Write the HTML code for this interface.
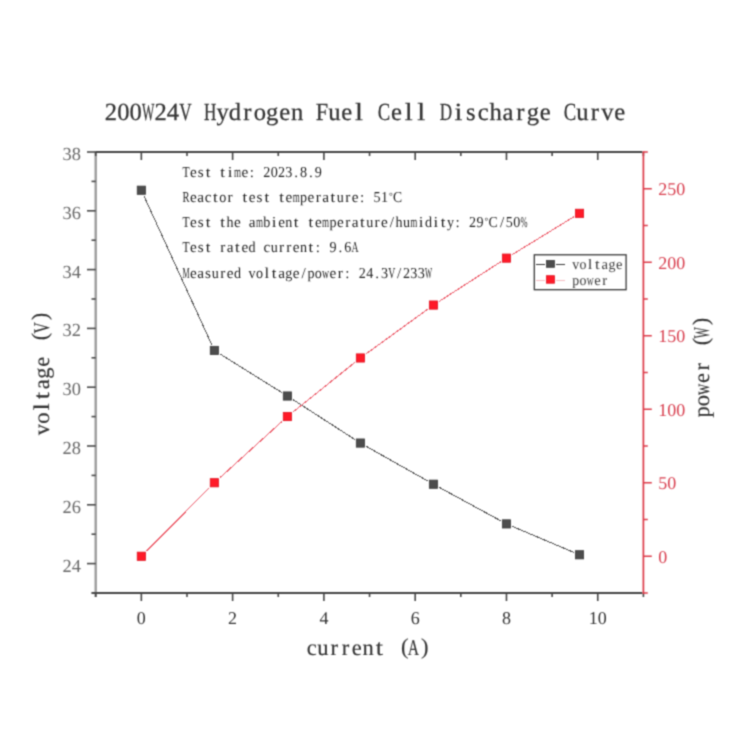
<!DOCTYPE html><html><head><meta charset="utf-8"><style>html,body{margin:0;padding:0;background:#fff;}svg{display:block;}text{font-family:"Liberation Serif",serif;text-rendering:geometricPrecision;}</style></head><body>
<svg width="750" height="750" viewBox="0 0 750 750">
<defs><filter id="soft" filterUnits="userSpaceOnUse" x="0" y="0" width="750" height="750" color-interpolation-filters="sRGB"><feConvolveMatrix order="3" kernelMatrix="1 3 1 3 9 3 1 3 1" divisor="25" edgeMode="duplicate"/></filter></defs>
<g filter="url(#soft)">
<rect width="750" height="750" fill="#fff"/>
<text x="104.75" y="120.40" font-size="24.6" fill="#333"  stroke="#333" stroke-width="0.25">2</text>
<text x="117.16" y="120.40" font-size="24.6" fill="#333"  stroke="#333" stroke-width="0.25">0</text>
<text x="129.58" y="120.40" font-size="24.6" fill="#333"  stroke="#333" stroke-width="0.25">0</text>
<text x="141.93" y="120.40" font-size="24.6" fill="#333" textLength="12.41" lengthAdjust="spacingAndGlyphs"  stroke="#333" stroke-width="0.25">W</text>
<text x="154.40" y="120.40" font-size="24.6" fill="#333"  stroke="#333" stroke-width="0.25">2</text>
<text x="166.81" y="120.40" font-size="24.6" fill="#333"  stroke="#333" stroke-width="0.25">4</text>
<text x="179.16" y="120.40" font-size="24.6" fill="#333" textLength="12.41" lengthAdjust="spacingAndGlyphs"  stroke="#333" stroke-width="0.25">V</text>
<text x="203.98" y="120.40" font-size="24.6" fill="#333" textLength="12.41" lengthAdjust="spacingAndGlyphs"  stroke="#333" stroke-width="0.25">H</text>
<text x="216.44" y="120.40" font-size="24.6" fill="#333"  stroke="#333" stroke-width="0.25">y</text>
<text x="228.85" y="120.40" font-size="24.6" fill="#333"  stroke="#333" stroke-width="0.25">d</text>
<text x="243.32" y="120.40" font-size="24.6" fill="#333"  stroke="#333" stroke-width="0.25">r</text>
<text x="253.67" y="120.40" font-size="24.6" fill="#333"  stroke="#333" stroke-width="0.25">o</text>
<text x="266.08" y="120.40" font-size="24.6" fill="#333"  stroke="#333" stroke-width="0.25">g</text>
<text x="279.19" y="120.40" font-size="24.6" fill="#333"  stroke="#333" stroke-width="0.25">e</text>
<text x="290.91" y="120.40" font-size="24.6" fill="#333"  stroke="#333" stroke-width="0.25">n</text>
<text x="315.67" y="120.40" font-size="24.6" fill="#333" textLength="12.41" lengthAdjust="spacingAndGlyphs"  stroke="#333" stroke-width="0.25">F</text>
<text x="328.14" y="120.40" font-size="24.6" fill="#333"  stroke="#333" stroke-width="0.25">u</text>
<text x="341.24" y="120.40" font-size="24.6" fill="#333"  stroke="#333" stroke-width="0.25">e</text>
<text x="355.13" y="120.40" font-size="24.6" fill="#333" textLength="7.94" lengthAdjust="spacingAndGlyphs"  stroke="#333" stroke-width="0.25">l</text>
<text x="377.72" y="120.40" font-size="24.6" fill="#333" textLength="12.41" lengthAdjust="spacingAndGlyphs"  stroke="#333" stroke-width="0.25">C</text>
<text x="390.88" y="120.40" font-size="24.6" fill="#333"  stroke="#333" stroke-width="0.25">e</text>
<text x="404.77" y="120.40" font-size="24.6" fill="#333" textLength="7.94" lengthAdjust="spacingAndGlyphs"  stroke="#333" stroke-width="0.25">l</text>
<text x="417.18" y="120.40" font-size="24.6" fill="#333" textLength="7.94" lengthAdjust="spacingAndGlyphs"  stroke="#333" stroke-width="0.25">l</text>
<text x="439.77" y="120.40" font-size="24.6" fill="#333" textLength="12.41" lengthAdjust="spacingAndGlyphs"  stroke="#333" stroke-width="0.25">D</text>
<text x="454.41" y="120.40" font-size="24.6" fill="#333" textLength="7.94" lengthAdjust="spacingAndGlyphs"  stroke="#333" stroke-width="0.25">i</text>
<text x="466.01" y="120.40" font-size="24.6" fill="#333"  stroke="#333" stroke-width="0.25">s</text>
<text x="477.75" y="120.40" font-size="24.6" fill="#333"  stroke="#333" stroke-width="0.25">c</text>
<text x="489.47" y="120.40" font-size="24.6" fill="#333"  stroke="#333" stroke-width="0.25">h</text>
<text x="502.57" y="120.40" font-size="24.6" fill="#333"  stroke="#333" stroke-width="0.25">a</text>
<text x="516.34" y="120.40" font-size="24.6" fill="#333"  stroke="#333" stroke-width="0.25">r</text>
<text x="526.70" y="120.40" font-size="24.6" fill="#333"  stroke="#333" stroke-width="0.25">g</text>
<text x="539.80" y="120.40" font-size="24.6" fill="#333"  stroke="#333" stroke-width="0.25">e</text>
<text x="563.87" y="120.40" font-size="24.6" fill="#333" textLength="12.41" lengthAdjust="spacingAndGlyphs"  stroke="#333" stroke-width="0.25">C</text>
<text x="576.34" y="120.40" font-size="24.6" fill="#333"  stroke="#333" stroke-width="0.25">u</text>
<text x="590.80" y="120.40" font-size="24.6" fill="#333"  stroke="#333" stroke-width="0.25">r</text>
<text x="601.16" y="120.40" font-size="24.6" fill="#333"  stroke="#333" stroke-width="0.25">v</text>
<text x="614.26" y="120.40" font-size="24.6" fill="#333"  stroke="#333" stroke-width="0.25">e</text>
<g stroke-linecap="butt" fill="none">
<line x1="95.7" y1="151.0" x2="95.7" y2="597.0" stroke="#9b9b9b" stroke-width="2.4"/>
<line x1="95.7" y1="152.0" x2="642.4" y2="152.0" stroke="#454545" stroke-width="2"/>
<line x1="91.7" y1="593.0" x2="642.4" y2="593.0" stroke="#454545" stroke-width="2"/>
<line x1="95.70" y1="152.0" x2="95.70" y2="156.0" stroke="#454545" stroke-width="1.6"/>
<line x1="95.70" y1="593.0" x2="95.70" y2="597.0" stroke="#454545" stroke-width="1.6"/>
<line x1="141.34" y1="152.0" x2="141.34" y2="160.0" stroke="#454545" stroke-width="1.6"/>
<line x1="141.34" y1="593.0" x2="141.34" y2="601.0" stroke="#454545" stroke-width="1.6"/>
<line x1="186.98" y1="152.0" x2="186.98" y2="156.0" stroke="#454545" stroke-width="1.6"/>
<line x1="186.98" y1="593.0" x2="186.98" y2="597.0" stroke="#454545" stroke-width="1.6"/>
<line x1="232.62" y1="152.0" x2="232.62" y2="160.0" stroke="#454545" stroke-width="1.6"/>
<line x1="232.62" y1="593.0" x2="232.62" y2="601.0" stroke="#454545" stroke-width="1.6"/>
<line x1="278.27" y1="152.0" x2="278.27" y2="156.0" stroke="#454545" stroke-width="1.6"/>
<line x1="278.27" y1="593.0" x2="278.27" y2="597.0" stroke="#454545" stroke-width="1.6"/>
<line x1="323.91" y1="152.0" x2="323.91" y2="160.0" stroke="#454545" stroke-width="1.6"/>
<line x1="323.91" y1="593.0" x2="323.91" y2="601.0" stroke="#454545" stroke-width="1.6"/>
<line x1="369.55" y1="152.0" x2="369.55" y2="156.0" stroke="#454545" stroke-width="1.6"/>
<line x1="369.55" y1="593.0" x2="369.55" y2="597.0" stroke="#454545" stroke-width="1.6"/>
<line x1="415.19" y1="152.0" x2="415.19" y2="160.0" stroke="#454545" stroke-width="1.6"/>
<line x1="415.19" y1="593.0" x2="415.19" y2="601.0" stroke="#454545" stroke-width="1.6"/>
<line x1="460.83" y1="152.0" x2="460.83" y2="156.0" stroke="#454545" stroke-width="1.6"/>
<line x1="460.83" y1="593.0" x2="460.83" y2="597.0" stroke="#454545" stroke-width="1.6"/>
<line x1="506.47" y1="152.0" x2="506.47" y2="160.0" stroke="#454545" stroke-width="1.6"/>
<line x1="506.47" y1="593.0" x2="506.47" y2="601.0" stroke="#454545" stroke-width="1.6"/>
<line x1="552.12" y1="152.0" x2="552.12" y2="156.0" stroke="#454545" stroke-width="1.6"/>
<line x1="552.12" y1="593.0" x2="552.12" y2="597.0" stroke="#454545" stroke-width="1.6"/>
<line x1="597.76" y1="152.0" x2="597.76" y2="160.0" stroke="#454545" stroke-width="1.6"/>
<line x1="597.76" y1="593.0" x2="597.76" y2="601.0" stroke="#454545" stroke-width="1.6"/>
<line x1="643.40" y1="152.0" x2="643.40" y2="156.0" stroke="#454545" stroke-width="1.6"/>
<line x1="643.40" y1="593.0" x2="643.40" y2="597.0" stroke="#454545" stroke-width="1.6"/>
<line x1="91.50" y1="593.00" x2="95.7" y2="593.00" stroke="#4a4a4a" stroke-width="1.6"/>
<line x1="87.00" y1="563.60" x2="95.7" y2="563.60" stroke="#4a4a4a" stroke-width="1.6"/>
<line x1="91.50" y1="534.20" x2="95.7" y2="534.20" stroke="#4a4a4a" stroke-width="1.6"/>
<line x1="87.00" y1="504.80" x2="95.7" y2="504.80" stroke="#4a4a4a" stroke-width="1.6"/>
<line x1="91.50" y1="475.40" x2="95.7" y2="475.40" stroke="#4a4a4a" stroke-width="1.6"/>
<line x1="87.00" y1="446.00" x2="95.7" y2="446.00" stroke="#4a4a4a" stroke-width="1.6"/>
<line x1="91.50" y1="416.60" x2="95.7" y2="416.60" stroke="#4a4a4a" stroke-width="1.6"/>
<line x1="87.00" y1="387.20" x2="95.7" y2="387.20" stroke="#4a4a4a" stroke-width="1.6"/>
<line x1="91.50" y1="357.80" x2="95.7" y2="357.80" stroke="#4a4a4a" stroke-width="1.6"/>
<line x1="87.00" y1="328.40" x2="95.7" y2="328.40" stroke="#4a4a4a" stroke-width="1.6"/>
<line x1="91.50" y1="299.00" x2="95.7" y2="299.00" stroke="#4a4a4a" stroke-width="1.6"/>
<line x1="87.00" y1="269.60" x2="95.7" y2="269.60" stroke="#4a4a4a" stroke-width="1.6"/>
<line x1="91.50" y1="240.20" x2="95.7" y2="240.20" stroke="#4a4a4a" stroke-width="1.6"/>
<line x1="87.00" y1="210.80" x2="95.7" y2="210.80" stroke="#4a4a4a" stroke-width="1.6"/>
<line x1="91.50" y1="181.40" x2="95.7" y2="181.40" stroke="#4a4a4a" stroke-width="1.6"/>
<line x1="87.00" y1="152.00" x2="95.7" y2="152.00" stroke="#4a4a4a" stroke-width="1.6"/>
<line x1="643.4" y1="151.2" x2="643.4" y2="593.9" stroke="#dc3a48" stroke-width="1.7"/>
<line x1="643.4" y1="593.00" x2="647.8" y2="593.00" stroke="#dc3a48" stroke-width="1.5"/>
<line x1="643.4" y1="556.25" x2="651.8" y2="556.25" stroke="#dc3a48" stroke-width="1.5"/>
<line x1="643.4" y1="519.50" x2="647.8" y2="519.50" stroke="#dc3a48" stroke-width="1.5"/>
<line x1="643.4" y1="482.75" x2="651.8" y2="482.75" stroke="#dc3a48" stroke-width="1.5"/>
<line x1="643.4" y1="446.00" x2="647.8" y2="446.00" stroke="#dc3a48" stroke-width="1.5"/>
<line x1="643.4" y1="409.25" x2="651.8" y2="409.25" stroke="#dc3a48" stroke-width="1.5"/>
<line x1="643.4" y1="372.50" x2="647.8" y2="372.50" stroke="#dc3a48" stroke-width="1.5"/>
<line x1="643.4" y1="335.75" x2="651.8" y2="335.75" stroke="#dc3a48" stroke-width="1.5"/>
<line x1="643.4" y1="299.00" x2="647.8" y2="299.00" stroke="#dc3a48" stroke-width="1.5"/>
<line x1="643.4" y1="262.25" x2="651.8" y2="262.25" stroke="#dc3a48" stroke-width="1.5"/>
<line x1="643.4" y1="225.50" x2="647.8" y2="225.50" stroke="#dc3a48" stroke-width="1.5"/>
<line x1="643.4" y1="188.75" x2="651.8" y2="188.75" stroke="#dc3a48" stroke-width="1.5"/>
<line x1="643.4" y1="152.00" x2="647.8" y2="152.00" stroke="#dc3a48" stroke-width="1.5"/>
</g>
<text x="81" y="571.50" font-size="18.4" fill="#666" text-anchor="end">24</text>
<text x="81" y="512.70" font-size="18.4" fill="#666" text-anchor="end">26</text>
<text x="81" y="453.90" font-size="18.4" fill="#666" text-anchor="end">28</text>
<text x="81" y="395.10" font-size="18.4" fill="#666" text-anchor="end">30</text>
<text x="81" y="336.30" font-size="18.4" fill="#666" text-anchor="end">32</text>
<text x="81" y="277.50" font-size="18.4" fill="#666" text-anchor="end">34</text>
<text x="81" y="218.70" font-size="18.4" fill="#666" text-anchor="end">36</text>
<text x="81" y="159.90" font-size="18.4" fill="#666" text-anchor="end">38</text>
<text x="141.34" y="623.6" font-size="18" fill="#333" text-anchor="middle">0</text>
<text x="232.62" y="623.6" font-size="18" fill="#333" text-anchor="middle">2</text>
<text x="323.91" y="623.6" font-size="18" fill="#333" text-anchor="middle">4</text>
<text x="415.19" y="623.6" font-size="18" fill="#333" text-anchor="middle">6</text>
<text x="506.47" y="623.6" font-size="18" fill="#333" text-anchor="middle">8</text>
<text x="597.76" y="623.6" font-size="18" fill="#333" text-anchor="middle">10</text>
<text x="658.3" y="562.95" font-size="18" fill="#d83e4e">0</text>
<text x="658.3" y="489.45" font-size="18" fill="#d83e4e">50</text>
<text x="658.3" y="415.95" font-size="18" fill="#d83e4e">100</text>
<text x="658.3" y="342.45" font-size="18" fill="#d83e4e">150</text>
<text x="658.3" y="268.95" font-size="18" fill="#d83e4e">200</text>
<text x="658.3" y="195.45" font-size="18" fill="#d83e4e">250</text>
<text x="306.66" y="655.20" font-size="22.5" fill="#333"  stroke="#333" stroke-width="0.15">c</text>
<text x="317.32" y="655.20" font-size="22.5" fill="#333"  stroke="#333" stroke-width="0.15">u</text>
<text x="330.50" y="655.20" font-size="22.5" fill="#333"  stroke="#333" stroke-width="0.15">r</text>
<text x="341.80" y="655.20" font-size="22.5" fill="#333"  stroke="#333" stroke-width="0.15">r</text>
<text x="351.86" y="655.20" font-size="22.5" fill="#333"  stroke="#333" stroke-width="0.15">e</text>
<text x="362.53" y="655.20" font-size="22.5" fill="#333"  stroke="#333" stroke-width="0.15">n</text>
<text x="375.83" y="655.20" font-size="22.5" fill="#333" textLength="7.23" lengthAdjust="spacingAndGlyphs"  stroke="#333" stroke-width="0.15">t</text>
<text x="400.89" y="653.62" font-size="22.5" fill="#333"  stroke="#333" stroke-width="0.15">(</text>
<text x="407.70" y="655.20" font-size="22.5" fill="#333" textLength="11.30" lengthAdjust="spacingAndGlyphs"  stroke="#333" stroke-width="0.15">A</text>
<text x="421.03" y="653.62" font-size="22.5" fill="#333"  stroke="#333" stroke-width="0.15">)</text>
<g transform="translate(48.8,435.2) rotate(-90)">
<text x="0.03" y="0.00" font-size="22.5" fill="#333"  stroke="#333" stroke-width="0.15">v</text>
<text x="11.33" y="0.00" font-size="22.5" fill="#333"  stroke="#333" stroke-width="0.15">o</text>
<text x="24.63" y="0.00" font-size="22.5" fill="#333" textLength="7.23" lengthAdjust="spacingAndGlyphs"  stroke="#333" stroke-width="0.15">l</text>
<text x="35.93" y="0.00" font-size="22.5" fill="#333" textLength="7.23" lengthAdjust="spacingAndGlyphs"  stroke="#333" stroke-width="0.15">t</text>
<text x="45.86" y="0.00" font-size="22.5" fill="#333"  stroke="#333" stroke-width="0.15">a</text>
<text x="56.52" y="0.00" font-size="22.5" fill="#333"  stroke="#333" stroke-width="0.15">g</text>
<text x="68.46" y="0.00" font-size="22.5" fill="#333"  stroke="#333" stroke-width="0.15">e</text>
<text x="94.89" y="-1.58" font-size="22.5" fill="#333"  stroke="#333" stroke-width="0.15">(</text>
<text x="101.70" y="0.00" font-size="22.5" fill="#333" textLength="11.30" lengthAdjust="spacingAndGlyphs"  stroke="#333" stroke-width="0.15">V</text>
<text x="115.03" y="-1.58" font-size="22.5" fill="#333"  stroke="#333" stroke-width="0.15">)</text>
</g>
<g transform="translate(709.3,417.6) rotate(-90)">
<text x="0.03" y="0.00" font-size="22.5" fill="#333"  stroke="#333" stroke-width="0.15">p</text>
<text x="11.33" y="0.00" font-size="22.5" fill="#333"  stroke="#333" stroke-width="0.15">o</text>
<text x="22.60" y="0.00" font-size="22.5" fill="#333" textLength="11.30" lengthAdjust="spacingAndGlyphs"  stroke="#333" stroke-width="0.15">w</text>
<text x="34.56" y="0.00" font-size="22.5" fill="#333"  stroke="#333" stroke-width="0.15">e</text>
<text x="47.10" y="0.00" font-size="22.5" fill="#333"  stroke="#333" stroke-width="0.15">r</text>
<text x="72.29" y="-1.58" font-size="22.5" fill="#333"  stroke="#333" stroke-width="0.15">(</text>
<text x="79.10" y="0.00" font-size="22.5" fill="#333" textLength="11.30" lengthAdjust="spacingAndGlyphs"  stroke="#333" stroke-width="0.15">W</text>
<text x="92.43" y="-1.58" font-size="22.5" fill="#333"  stroke="#333" stroke-width="0.15">)</text>
</g>
<text x="182.45" y="176.80" font-size="15.2" fill="#1e1e1e" textLength="7.06" lengthAdjust="spacingAndGlyphs" >T</text>
<text x="189.95" y="176.80" font-size="15.2" fill="#1e1e1e" >e</text>
<text x="197.72" y="176.80" font-size="15.2" fill="#1e1e1e" >s</text>
<text x="205.67" y="176.80" font-size="15.2" fill="#1e1e1e" textLength="4.70" lengthAdjust="spacingAndGlyphs" >t</text>
<text x="220.37" y="176.80" font-size="15.2" fill="#1e1e1e" textLength="4.70" lengthAdjust="spacingAndGlyphs" >t</text>
<text x="227.72" y="176.80" font-size="15.2" fill="#1e1e1e" textLength="4.70" lengthAdjust="spacingAndGlyphs" >i</text>
<text x="233.90" y="176.80" font-size="15.2" fill="#1e1e1e" textLength="7.06" lengthAdjust="spacingAndGlyphs" >m</text>
<text x="241.40" y="176.80" font-size="15.2" fill="#1e1e1e" >e</text>
<text x="249.72" y="176.80" font-size="15.2" fill="#1e1e1e" >:</text>
<text x="263.30" y="176.80" font-size="15.2" fill="#1e1e1e" textLength="7.06" lengthAdjust="spacingAndGlyphs" >2</text>
<text x="270.65" y="176.80" font-size="15.2" fill="#1e1e1e" textLength="7.06" lengthAdjust="spacingAndGlyphs" >0</text>
<text x="278.00" y="176.80" font-size="15.2" fill="#1e1e1e" textLength="7.06" lengthAdjust="spacingAndGlyphs" >2</text>
<text x="285.35" y="176.80" font-size="15.2" fill="#1e1e1e" textLength="7.06" lengthAdjust="spacingAndGlyphs" >3</text>
<text x="294.33" y="176.80" font-size="15.2" fill="#1e1e1e" >.</text>
<text x="300.05" y="176.80" font-size="15.2" fill="#1e1e1e" textLength="7.06" lengthAdjust="spacingAndGlyphs" >8</text>
<text x="309.03" y="176.80" font-size="15.2" fill="#1e1e1e" >.</text>
<text x="314.75" y="176.80" font-size="15.2" fill="#1e1e1e" textLength="7.06" lengthAdjust="spacingAndGlyphs" >9</text>
<text x="182.45" y="202.10" font-size="15.2" fill="#1e1e1e" textLength="7.06" lengthAdjust="spacingAndGlyphs" >R</text>
<text x="189.95" y="202.10" font-size="15.2" fill="#1e1e1e" >e</text>
<text x="197.30" y="202.10" font-size="15.2" fill="#1e1e1e" >a</text>
<text x="204.65" y="202.10" font-size="15.2" fill="#1e1e1e" >c</text>
<text x="213.02" y="202.10" font-size="15.2" fill="#1e1e1e" textLength="4.70" lengthAdjust="spacingAndGlyphs" >t</text>
<text x="219.20" y="202.10" font-size="15.2" fill="#1e1e1e" textLength="7.06" lengthAdjust="spacingAndGlyphs" >o</text>
<text x="227.54" y="202.10" font-size="15.2" fill="#1e1e1e" >r</text>
<text x="242.42" y="202.10" font-size="15.2" fill="#1e1e1e" textLength="4.70" lengthAdjust="spacingAndGlyphs" >t</text>
<text x="248.75" y="202.10" font-size="15.2" fill="#1e1e1e" >e</text>
<text x="256.52" y="202.10" font-size="15.2" fill="#1e1e1e" >s</text>
<text x="264.47" y="202.10" font-size="15.2" fill="#1e1e1e" textLength="4.70" lengthAdjust="spacingAndGlyphs" >t</text>
<text x="279.17" y="202.10" font-size="15.2" fill="#1e1e1e" textLength="4.70" lengthAdjust="spacingAndGlyphs" >t</text>
<text x="285.50" y="202.10" font-size="15.2" fill="#1e1e1e" >e</text>
<text x="292.70" y="202.10" font-size="15.2" fill="#1e1e1e" textLength="7.06" lengthAdjust="spacingAndGlyphs" >m</text>
<text x="300.05" y="202.10" font-size="15.2" fill="#1e1e1e" textLength="7.06" lengthAdjust="spacingAndGlyphs" >p</text>
<text x="307.55" y="202.10" font-size="15.2" fill="#1e1e1e" >e</text>
<text x="315.74" y="202.10" font-size="15.2" fill="#1e1e1e" >r</text>
<text x="322.25" y="202.10" font-size="15.2" fill="#1e1e1e" >a</text>
<text x="330.62" y="202.10" font-size="15.2" fill="#1e1e1e" textLength="4.70" lengthAdjust="spacingAndGlyphs" >t</text>
<text x="336.80" y="202.10" font-size="15.2" fill="#1e1e1e" textLength="7.06" lengthAdjust="spacingAndGlyphs" >u</text>
<text x="345.14" y="202.10" font-size="15.2" fill="#1e1e1e" >r</text>
<text x="351.65" y="202.10" font-size="15.2" fill="#1e1e1e" >e</text>
<text x="359.97" y="202.10" font-size="15.2" fill="#1e1e1e" >:</text>
<text x="373.55" y="202.10" font-size="15.2" fill="#1e1e1e" textLength="7.06" lengthAdjust="spacingAndGlyphs" >5</text>
<text x="380.90" y="202.10" font-size="15.2" fill="#1e1e1e" textLength="7.06" lengthAdjust="spacingAndGlyphs" >1</text>
<text x="388.98" y="199.06" font-size="9.42" fill="#1e1e1e" >°</text>
<text x="392.95" y="202.10" font-size="15.2" fill="#1e1e1e" textLength="9.11" lengthAdjust="spacingAndGlyphs" >C</text>
<text x="182.45" y="227.00" font-size="15.2" fill="#1e1e1e" textLength="7.06" lengthAdjust="spacingAndGlyphs" >T</text>
<text x="189.95" y="227.00" font-size="15.2" fill="#1e1e1e" >e</text>
<text x="197.72" y="227.00" font-size="15.2" fill="#1e1e1e" >s</text>
<text x="205.67" y="227.00" font-size="15.2" fill="#1e1e1e" textLength="4.70" lengthAdjust="spacingAndGlyphs" >t</text>
<text x="220.37" y="227.00" font-size="15.2" fill="#1e1e1e" textLength="4.70" lengthAdjust="spacingAndGlyphs" >t</text>
<text x="226.55" y="227.00" font-size="15.2" fill="#1e1e1e" textLength="7.06" lengthAdjust="spacingAndGlyphs" >h</text>
<text x="234.05" y="227.00" font-size="15.2" fill="#1e1e1e" >e</text>
<text x="248.75" y="227.00" font-size="15.2" fill="#1e1e1e" >a</text>
<text x="255.95" y="227.00" font-size="15.2" fill="#1e1e1e" textLength="7.06" lengthAdjust="spacingAndGlyphs" >m</text>
<text x="263.30" y="227.00" font-size="15.2" fill="#1e1e1e" textLength="7.06" lengthAdjust="spacingAndGlyphs" >b</text>
<text x="271.82" y="227.00" font-size="15.2" fill="#1e1e1e" textLength="4.70" lengthAdjust="spacingAndGlyphs" >i</text>
<text x="278.15" y="227.00" font-size="15.2" fill="#1e1e1e" >e</text>
<text x="285.35" y="227.00" font-size="15.2" fill="#1e1e1e" textLength="7.06" lengthAdjust="spacingAndGlyphs" >n</text>
<text x="293.87" y="227.00" font-size="15.2" fill="#1e1e1e" textLength="4.70" lengthAdjust="spacingAndGlyphs" >t</text>
<text x="308.57" y="227.00" font-size="15.2" fill="#1e1e1e" textLength="4.70" lengthAdjust="spacingAndGlyphs" >t</text>
<text x="314.90" y="227.00" font-size="15.2" fill="#1e1e1e" >e</text>
<text x="322.10" y="227.00" font-size="15.2" fill="#1e1e1e" textLength="7.06" lengthAdjust="spacingAndGlyphs" >m</text>
<text x="329.45" y="227.00" font-size="15.2" fill="#1e1e1e" textLength="7.06" lengthAdjust="spacingAndGlyphs" >p</text>
<text x="336.95" y="227.00" font-size="15.2" fill="#1e1e1e" >e</text>
<text x="345.14" y="227.00" font-size="15.2" fill="#1e1e1e" >r</text>
<text x="351.65" y="227.00" font-size="15.2" fill="#1e1e1e" >a</text>
<text x="360.02" y="227.00" font-size="15.2" fill="#1e1e1e" textLength="4.70" lengthAdjust="spacingAndGlyphs" >t</text>
<text x="366.20" y="227.00" font-size="15.2" fill="#1e1e1e" textLength="7.06" lengthAdjust="spacingAndGlyphs" >u</text>
<text x="374.54" y="227.00" font-size="15.2" fill="#1e1e1e" >r</text>
<text x="381.05" y="227.00" font-size="15.2" fill="#1e1e1e" >e</text>
<text x="389.66" y="227.00" font-size="15.2" fill="#1e1e1e" >/</text>
<text x="395.60" y="227.00" font-size="15.2" fill="#1e1e1e" textLength="7.06" lengthAdjust="spacingAndGlyphs" >h</text>
<text x="402.95" y="227.00" font-size="15.2" fill="#1e1e1e" textLength="7.06" lengthAdjust="spacingAndGlyphs" >u</text>
<text x="410.30" y="227.00" font-size="15.2" fill="#1e1e1e" textLength="7.06" lengthAdjust="spacingAndGlyphs" >m</text>
<text x="418.82" y="227.00" font-size="15.2" fill="#1e1e1e" textLength="4.70" lengthAdjust="spacingAndGlyphs" >i</text>
<text x="425.00" y="227.00" font-size="15.2" fill="#1e1e1e" textLength="7.06" lengthAdjust="spacingAndGlyphs" >d</text>
<text x="433.52" y="227.00" font-size="15.2" fill="#1e1e1e" textLength="4.70" lengthAdjust="spacingAndGlyphs" >i</text>
<text x="440.87" y="227.00" font-size="15.2" fill="#1e1e1e" textLength="4.70" lengthAdjust="spacingAndGlyphs" >t</text>
<text x="447.05" y="227.00" font-size="15.2" fill="#1e1e1e" textLength="7.06" lengthAdjust="spacingAndGlyphs" >y</text>
<text x="455.52" y="227.00" font-size="15.2" fill="#1e1e1e" >:</text>
<text x="469.10" y="227.00" font-size="15.2" fill="#1e1e1e" textLength="7.06" lengthAdjust="spacingAndGlyphs" >2</text>
<text x="476.45" y="227.00" font-size="15.2" fill="#1e1e1e" textLength="7.06" lengthAdjust="spacingAndGlyphs" >9</text>
<text x="484.53" y="223.96" font-size="9.42" fill="#1e1e1e" >°</text>
<text x="488.50" y="227.00" font-size="15.2" fill="#1e1e1e" textLength="9.11" lengthAdjust="spacingAndGlyphs" >C</text>
<text x="499.91" y="227.00" font-size="15.2" fill="#1e1e1e" >/</text>
<text x="505.85" y="227.00" font-size="15.2" fill="#1e1e1e" textLength="7.06" lengthAdjust="spacingAndGlyphs" >5</text>
<text x="513.20" y="227.00" font-size="15.2" fill="#1e1e1e" textLength="7.06" lengthAdjust="spacingAndGlyphs" >0</text>
<text x="520.55" y="227.00" font-size="15.2" fill="#1e1e1e" textLength="7.06" lengthAdjust="spacingAndGlyphs" >%</text>
<text x="182.45" y="252.30" font-size="15.2" fill="#1e1e1e" textLength="7.06" lengthAdjust="spacingAndGlyphs" >T</text>
<text x="189.95" y="252.30" font-size="15.2" fill="#1e1e1e" >e</text>
<text x="197.72" y="252.30" font-size="15.2" fill="#1e1e1e" >s</text>
<text x="205.67" y="252.30" font-size="15.2" fill="#1e1e1e" textLength="4.70" lengthAdjust="spacingAndGlyphs" >t</text>
<text x="220.19" y="252.30" font-size="15.2" fill="#1e1e1e" >r</text>
<text x="226.70" y="252.30" font-size="15.2" fill="#1e1e1e" >a</text>
<text x="235.07" y="252.30" font-size="15.2" fill="#1e1e1e" textLength="4.70" lengthAdjust="spacingAndGlyphs" >t</text>
<text x="241.40" y="252.30" font-size="15.2" fill="#1e1e1e" >e</text>
<text x="248.60" y="252.30" font-size="15.2" fill="#1e1e1e" textLength="7.06" lengthAdjust="spacingAndGlyphs" >d</text>
<text x="263.45" y="252.30" font-size="15.2" fill="#1e1e1e" >c</text>
<text x="270.65" y="252.30" font-size="15.2" fill="#1e1e1e" textLength="7.06" lengthAdjust="spacingAndGlyphs" >u</text>
<text x="278.99" y="252.30" font-size="15.2" fill="#1e1e1e" >r</text>
<text x="286.34" y="252.30" font-size="15.2" fill="#1e1e1e" >r</text>
<text x="292.85" y="252.30" font-size="15.2" fill="#1e1e1e" >e</text>
<text x="300.05" y="252.30" font-size="15.2" fill="#1e1e1e" textLength="7.06" lengthAdjust="spacingAndGlyphs" >n</text>
<text x="308.57" y="252.30" font-size="15.2" fill="#1e1e1e" textLength="4.70" lengthAdjust="spacingAndGlyphs" >t</text>
<text x="315.87" y="252.30" font-size="15.2" fill="#1e1e1e" >:</text>
<text x="329.45" y="252.30" font-size="15.2" fill="#1e1e1e" textLength="7.06" lengthAdjust="spacingAndGlyphs" >9</text>
<text x="338.43" y="252.30" font-size="15.2" fill="#1e1e1e" >.</text>
<text x="344.15" y="252.30" font-size="15.2" fill="#1e1e1e" textLength="7.06" lengthAdjust="spacingAndGlyphs" >6</text>
<text x="351.50" y="252.30" font-size="15.2" fill="#1e1e1e" textLength="7.06" lengthAdjust="spacingAndGlyphs" >A</text>
<text x="182.45" y="277.70" font-size="15.2" fill="#1e1e1e" textLength="7.06" lengthAdjust="spacingAndGlyphs" >M</text>
<text x="189.95" y="277.70" font-size="15.2" fill="#1e1e1e" >e</text>
<text x="197.30" y="277.70" font-size="15.2" fill="#1e1e1e" >a</text>
<text x="205.07" y="277.70" font-size="15.2" fill="#1e1e1e" >s</text>
<text x="211.85" y="277.70" font-size="15.2" fill="#1e1e1e" textLength="7.06" lengthAdjust="spacingAndGlyphs" >u</text>
<text x="220.19" y="277.70" font-size="15.2" fill="#1e1e1e" >r</text>
<text x="226.70" y="277.70" font-size="15.2" fill="#1e1e1e" >e</text>
<text x="233.90" y="277.70" font-size="15.2" fill="#1e1e1e" textLength="7.06" lengthAdjust="spacingAndGlyphs" >d</text>
<text x="248.60" y="277.70" font-size="15.2" fill="#1e1e1e" textLength="7.06" lengthAdjust="spacingAndGlyphs" >v</text>
<text x="255.95" y="277.70" font-size="15.2" fill="#1e1e1e" textLength="7.06" lengthAdjust="spacingAndGlyphs" >o</text>
<text x="264.47" y="277.70" font-size="15.2" fill="#1e1e1e" textLength="4.70" lengthAdjust="spacingAndGlyphs" >l</text>
<text x="271.82" y="277.70" font-size="15.2" fill="#1e1e1e" textLength="4.70" lengthAdjust="spacingAndGlyphs" >t</text>
<text x="278.15" y="277.70" font-size="15.2" fill="#1e1e1e" >a</text>
<text x="285.35" y="277.70" font-size="15.2" fill="#1e1e1e" textLength="7.06" lengthAdjust="spacingAndGlyphs" >g</text>
<text x="292.85" y="277.70" font-size="15.2" fill="#1e1e1e" >e</text>
<text x="301.46" y="277.70" font-size="15.2" fill="#1e1e1e" >/</text>
<text x="307.40" y="277.70" font-size="15.2" fill="#1e1e1e" textLength="7.06" lengthAdjust="spacingAndGlyphs" >p</text>
<text x="314.75" y="277.70" font-size="15.2" fill="#1e1e1e" textLength="7.06" lengthAdjust="spacingAndGlyphs" >o</text>
<text x="322.10" y="277.70" font-size="15.2" fill="#1e1e1e" textLength="7.06" lengthAdjust="spacingAndGlyphs" >w</text>
<text x="329.60" y="277.70" font-size="15.2" fill="#1e1e1e" >e</text>
<text x="337.79" y="277.70" font-size="15.2" fill="#1e1e1e" >r</text>
<text x="345.27" y="277.70" font-size="15.2" fill="#1e1e1e" >:</text>
<text x="358.85" y="277.70" font-size="15.2" fill="#1e1e1e" textLength="7.06" lengthAdjust="spacingAndGlyphs" >2</text>
<text x="366.20" y="277.70" font-size="15.2" fill="#1e1e1e" textLength="7.06" lengthAdjust="spacingAndGlyphs" >4</text>
<text x="375.18" y="277.70" font-size="15.2" fill="#1e1e1e" >.</text>
<text x="380.90" y="277.70" font-size="15.2" fill="#1e1e1e" textLength="7.06" lengthAdjust="spacingAndGlyphs" >3</text>
<text x="388.25" y="277.70" font-size="15.2" fill="#1e1e1e" textLength="7.06" lengthAdjust="spacingAndGlyphs" >V</text>
<text x="397.01" y="277.70" font-size="15.2" fill="#1e1e1e" >/</text>
<text x="402.95" y="277.70" font-size="15.2" fill="#1e1e1e" textLength="7.06" lengthAdjust="spacingAndGlyphs" >2</text>
<text x="410.30" y="277.70" font-size="15.2" fill="#1e1e1e" textLength="7.06" lengthAdjust="spacingAndGlyphs" >3</text>
<text x="417.65" y="277.70" font-size="15.2" fill="#1e1e1e" textLength="7.06" lengthAdjust="spacingAndGlyphs" >3</text>
<text x="425.00" y="277.70" font-size="15.2" fill="#1e1e1e" textLength="7.06" lengthAdjust="spacingAndGlyphs" >W</text>
<line x1="143.96" y1="195.96" x2="211.75" y2="344.71" stroke="#505050" stroke-width="1" shape-rendering="crispEdges"/>
<line x1="220.00" y1="353.96" x2="281.77" y2="392.51" stroke="#505050" stroke-width="1" shape-rendering="crispEdges"/>
<line x1="293.01" y1="399.64" x2="354.81" y2="439.44" stroke="#505050" stroke-width="1" shape-rendering="crispEdges"/>
<line x1="366.09" y1="446.25" x2="427.78" y2="481.03" stroke="#505050" stroke-width="1" shape-rendering="crispEdges"/>
<line x1="439.13" y1="487.31" x2="500.79" y2="520.82" stroke="#505050" stroke-width="1" shape-rendering="crispEdges"/>
<line x1="512.23" y1="526.34" x2="573.74" y2="552.35" stroke="#505050" stroke-width="1" shape-rendering="crispEdges"/>
<rect x="137.24" y="186.12" width="8.2" height="8.2" fill="#4d4d4d" stroke="#3a3a3a" stroke-width="0.8"/>
<rect x="210.27" y="346.35" width="8.2" height="8.2" fill="#4d4d4d" stroke="#3a3a3a" stroke-width="0.8"/>
<rect x="283.29" y="391.92" width="8.2" height="8.2" fill="#4d4d4d" stroke="#3a3a3a" stroke-width="0.8"/>
<rect x="356.32" y="438.96" width="8.2" height="8.2" fill="#4d4d4d" stroke="#3a3a3a" stroke-width="0.8"/>
<rect x="429.35" y="480.12" width="8.2" height="8.2" fill="#4d4d4d" stroke="#3a3a3a" stroke-width="0.8"/>
<rect x="502.37" y="519.81" width="8.2" height="8.2" fill="#4d4d4d" stroke="#3a3a3a" stroke-width="0.8"/>
<rect x="575.40" y="550.68" width="8.2" height="8.2" fill="#4d4d4d" stroke="#3a3a3a" stroke-width="0.8"/>
<line x1="146.68" y1="550.87" x2="209.03" y2="488.13" stroke="#ec5a68" stroke-width="1" shape-rendering="crispEdges"/>
<line x1="219.80" y1="477.82" x2="281.96" y2="421.47" stroke="#ec5a68" stroke-width="1" shape-rendering="crispEdges"/>
<line x1="292.90" y1="412.13" x2="354.92" y2="362.39" stroke="#ec5a68" stroke-width="1" shape-rendering="crispEdges"/>
<line x1="365.98" y1="353.95" x2="427.89" y2="309.08" stroke="#ec5a68" stroke-width="1" shape-rendering="crispEdges"/>
<line x1="439.06" y1="301.45" x2="500.86" y2="261.74" stroke="#ec5a68" stroke-width="1" shape-rendering="crispEdges"/>
<line x1="512.11" y1="254.68" x2="573.87" y2="216.79" stroke="#ec5a68" stroke-width="1" shape-rendering="crispEdges"/>
<rect x="137.24" y="552.15" width="8.2" height="8.2" fill="#ff1a28" stroke="#e0101e" stroke-width="0.8"/>
<rect x="210.27" y="478.65" width="8.2" height="8.2" fill="#ff1a28" stroke="#e0101e" stroke-width="0.8"/>
<rect x="283.29" y="412.44" width="8.2" height="8.2" fill="#ff1a28" stroke="#e0101e" stroke-width="0.8"/>
<rect x="356.32" y="353.88" width="8.2" height="8.2" fill="#ff1a28" stroke="#e0101e" stroke-width="0.8"/>
<rect x="429.35" y="300.96" width="8.2" height="8.2" fill="#ff1a28" stroke="#e0101e" stroke-width="0.8"/>
<rect x="502.37" y="254.03" width="8.2" height="8.2" fill="#ff1a28" stroke="#e0101e" stroke-width="0.8"/>
<rect x="575.40" y="209.23" width="8.2" height="8.2" fill="#ff1a28" stroke="#e0101e" stroke-width="0.8"/>
<rect x="534.3" y="254.8" width="91.8" height="34.9" fill="#fff" stroke="#383838" stroke-width="1.3"/>
<line x1="535.5" y1="264" x2="545" y2="264" stroke="#3a3a3a" stroke-width="1" shape-rendering="crispEdges"/>
<line x1="556" y1="264" x2="565" y2="264" stroke="#3a3a3a" stroke-width="1" shape-rendering="crispEdges"/>
<rect x="546.5" y="260.5" width="7.9" height="6.8" fill="#4d4d4d" stroke="#3a3a3a" stroke-width="0.8"/>
<line x1="535.5" y1="280" x2="545" y2="280" stroke="#f6bcc2" stroke-width="1" shape-rendering="crispEdges"/>
<line x1="556" y1="280" x2="565" y2="280" stroke="#f6bcc2" stroke-width="1" shape-rendering="crispEdges"/>
<rect x="546.5" y="275.7" width="7.9" height="7.5" fill="#ff1a28" stroke="#e0101e" stroke-width="0.8"/>
<text x="572.14" y="269.40" font-size="14.6" fill="#3a3a3a" textLength="6.96" lengthAdjust="spacingAndGlyphs" >v</text>
<text x="579.39" y="269.40" font-size="14.6" fill="#3a3a3a" textLength="6.96" lengthAdjust="spacingAndGlyphs" >o</text>
<text x="587.80" y="269.40" font-size="14.6" fill="#3a3a3a" textLength="4.64" lengthAdjust="spacingAndGlyphs" >l</text>
<text x="595.05" y="269.40" font-size="14.6" fill="#3a3a3a" textLength="4.64" lengthAdjust="spacingAndGlyphs" >t</text>
<text x="601.38" y="269.40" font-size="14.6" fill="#3a3a3a" >a</text>
<text x="608.39" y="269.40" font-size="14.6" fill="#3a3a3a" textLength="6.96" lengthAdjust="spacingAndGlyphs" >g</text>
<text x="615.88" y="269.40" font-size="14.6" fill="#3a3a3a" >e</text>
<text x="572.14" y="284.70" font-size="14.6" fill="#3a3a3a" textLength="6.96" lengthAdjust="spacingAndGlyphs" >p</text>
<text x="579.39" y="284.70" font-size="14.6" fill="#3a3a3a" textLength="6.96" lengthAdjust="spacingAndGlyphs" >o</text>
<text x="586.64" y="284.70" font-size="14.6" fill="#3a3a3a" textLength="6.96" lengthAdjust="spacingAndGlyphs" >w</text>
<text x="594.13" y="284.70" font-size="14.6" fill="#3a3a3a" >e</text>
<text x="602.19" y="284.70" font-size="14.6" fill="#3a3a3a" >r</text>
</g></svg></body></html>
